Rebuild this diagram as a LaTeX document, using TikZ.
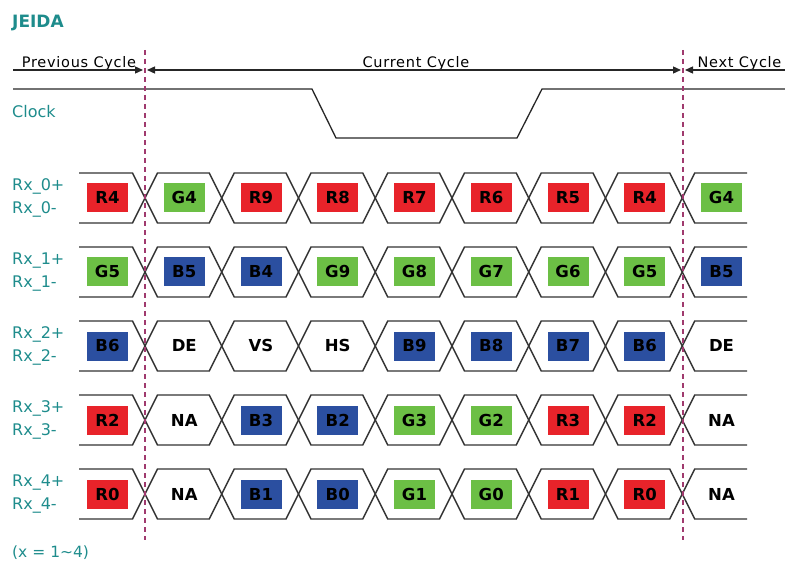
\documentclass[tikz,border=0pt]{standalone}
\usepackage{fontspec}
\setmainfont{DejaVu Sans}
\newfontfamily\hdrfont[LetterSpace=5]{DejaVu Sans}
\usetikzlibrary{arrows.meta,calc}
\definecolor{tealc}{HTML}{1E8C8C}
\definecolor{rd}{HTML}{E8232A}
\definecolor{gr}{HTML}{6CBF45}
\definecolor{bl}{HTML}{2B4FA0}
\definecolor{dsh}{HTML}{A03A6E}
\definecolor{wv}{HTML}{333333}
\begin{document}
\begin{tikzpicture}[x=1pt,y=-1pt,
  wave/.style={draw=wv,line width=1.4pt,line join=miter},
  hline/.style={draw=black!85,line width=1.3pt},
  tip/.style={-{Triangle[length=8pt,width=7pt]}},
  siglbl/.style={text=tealc,font=\fontsize{16}{16}\selectfont,anchor=west,inner sep=0pt},
  hdr/.style={font=\hdrfont\fontsize{14.5}{14.5}\selectfont,anchor=base,inner sep=0pt},
  cellbox/.style={minimum width=41pt,minimum height=29pt,inner sep=0pt,text=black,
    text height=12pt,text depth=0pt,
    font=\bfseries\fontsize{16.5}{16.5}\selectfont},
  cyc/.style={draw=dsh,line width=1.2pt,dash pattern=on 5pt off 4pt}]
\useasboundingbox (0,0) rectangle (785,564);

% title and notes
\node[text=tealc,font=\bfseries\fontsize{17}{17}\selectfont,anchor=west,inner sep=0pt] (title) at (12,23.5) {JEIDA};
\node[siglbl] (clk) at (12,112) {Clock};
\node[siglbl,font=\fontsize{15.5}{15.5}\selectfont] (note) at (12,553) {(x = 1\char`\~4)};

% header
\node[hdr] (prev) at (79,68) {Previous Cycle};
\node[hdr] (cur) at (416,68) {Current Cycle};
\node[hdr] (nxt) at (739.5,68) {Next Cycle};
\coordinate (pl) at (13,70);
\coordinate (pa) at (143,70);
\coordinate (ca) at (147,70);
\coordinate (cb) at (681,70);
\coordinate (na) at (685,70);
\coordinate (nr) at (785,70);
\draw[hline,tip] (pl) -- (pa);
\draw[hline,{Triangle[length=8pt,width=7pt]}-{Triangle[length=8pt,width=7pt]}] (ca) -- (cb);
\draw[hline,tip] (nr) -- (na);

% clock
\coordinate (k0) at (13,89);
\coordinate (k1) at (312,89);
\coordinate (k2) at (336,138);
\coordinate (k3) at (517,138);
\coordinate (k4) at (542,89);
\coordinate (k5) at (785,89);
\draw[hline] (k0) -- (k1) -- (k2) -- (k3) -- (k4) -- (k5);

% waveforms
\foreach \row/\yc in {0/198,1/272,2/346,3/420,4/494}{
  \node[siglbl] (lp\row) at (12,\yc-11.5) {Rx\_\row+};
  \node[siglbl] (lm\row) at (12,\yc+11.5) {Rx\_\row-};
  \draw[wave] (79,\yc-25) -- (132.5,\yc-25) -- (145,\yc) -- (132.5,\yc+25) -- (79,\yc+25);
  \foreach \k in {1,...,7}{
    \pgfmathsetmacro\xa{145+76.75*(\k-1)}
    \pgfmathsetmacro\xb{145+76.75*\k}
    \draw[wave] (\xa,\yc) -- (\xa+12.5,\yc-25) -- (\xb-12.5,\yc-25) -- (\xb,\yc) -- (\xb-12.5,\yc+25) -- (\xa+12.5,\yc+25) -- cycle;
  }
  \draw[wave] (747,\yc-25) -- (694.75,\yc-25) -- (682.25,\yc) -- (694.75,\yc+25) -- (747,\yc+25);
}

% cell contents
\foreach \row/\yc/\cells in {
  0/198/{R4/rd,G4/gr,R9/rd,R8/rd,R7/rd,R6/rd,R5/rd,R4/rd,G4/gr},
  1/272/{G5/gr,B5/bl,B4/bl,G9/gr,G8/gr,G7/gr,G6/gr,G5/gr,B5/bl},
  2/346/{B6/bl,DE/none,VS/none,HS/none,B9/bl,B8/bl,B7/bl,B6/bl,DE/none},
  3/420/{R2/rd,NA/none,B3/bl,B2/bl,G3/gr,G2/gr,R3/rd,R2/rd,NA/none},
  4/494/{R0/rd,NA/none,B1/bl,B0/bl,G1/gr,G0/gr,R1/rd,R0/rd,NA/none}}{
  \foreach \t/\c [count=\i from 0] in \cells{
    \node[cellbox,fill=\c] (c\row-\i) at (107.5+76.75*\i,\yc) {\t};
  }
}

% cycle boundaries
\coordinate (d1t) at (145,50);
\coordinate (d1b) at (145,540);
\coordinate (d2t) at (683,50);
\coordinate (d2b) at (683,540);
\draw[cyc] (d1t) -- (d1b);
\draw[cyc] (d2t) -- (d2b);
\end{tikzpicture}
\end{document}
